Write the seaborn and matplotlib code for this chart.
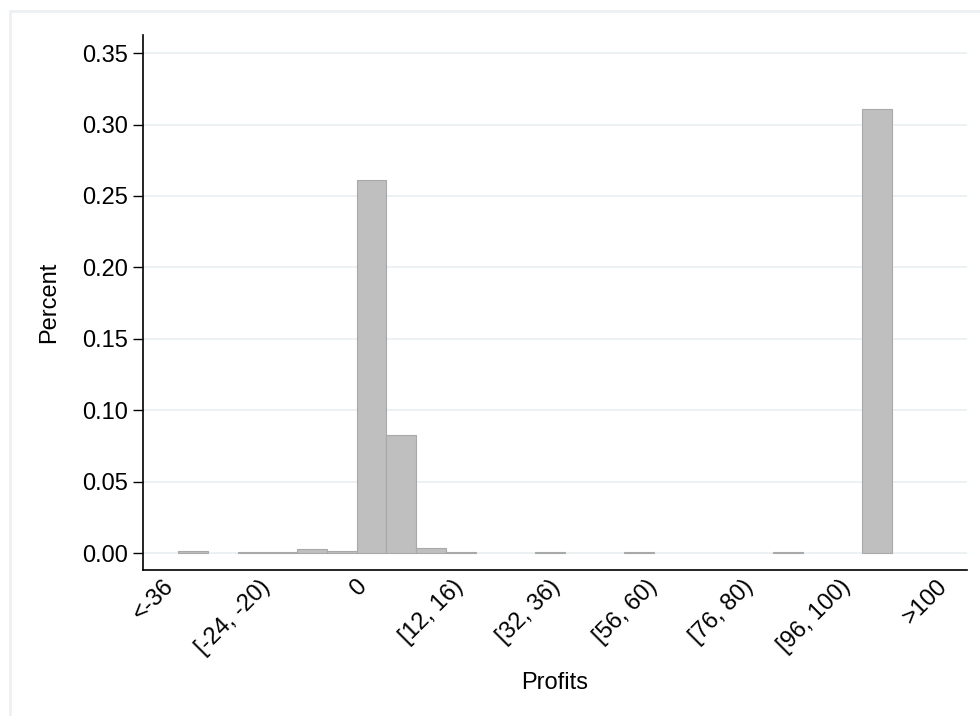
import numpy as np
import pandas as pd
import matplotlib
matplotlib.use("Agg")
import matplotlib.pyplot as plt
import matplotlib.transforms as mtransforms
import seaborn as sns

# histogram bins (bin index -> share), 26 bins over the coded profit range 0..40
bin_idx = [0, 2, 3, 4, 5, 6, 7, 8, 9, 12, 15, 20, 23]
pct = [0.0015, 0.0004, 0.0008, 0.0025, 0.0015, 0.2615, 0.0825, 0.0035,
       0.0005, 0.001, 0.0005, 0.0005, 0.311]
n_bins = 26
code_min, code_max = 0, 40

tick_codes = [0, 5, 10, 15, 20, 25, 30, 35, 40]
tick_labels = ["<-36", "[-24, -20)", "0", "[12, 16)", "[32, 36)",
               "[56, 60)", "[76, 80)", "[96, 100)", ">100"]
y_ticks = [0.00, 0.05, 0.10, 0.15, 0.20, 0.25, 0.30, 0.35]

bw = (code_max - code_min) / n_bins
df = pd.DataFrame({"code": [(i + 0.5) * bw for i in bin_idx], "pct": pct})

sns.set_style("white")
plt.rcParams["font.family"] = ["Liberation Sans", "DejaVu Sans"]
plt.rcParams["text.color"] = "black"
plt.rcParams["axes.labelcolor"] = "black"
plt.rcParams["xtick.color"] = "black"
plt.rcParams["ytick.color"] = "black"

fig = plt.figure(figsize=(9.8, 7.16), dpi=100)
ax = fig.add_axes([143 / 980, 1 - 570 / 716, (967 - 143) / 980, (570 - 35) / 716])

sns.histplot(data=df, x="code", weights="pct", bins=n_bins,
             binrange=(code_min, code_max), color="#bfbfbf", alpha=1,
             edgecolor="#a9a9a9", linewidth=0.8, ax=ax, zorder=3)
for p in ax.patches:
    if p.get_height() == 0:
        p.set_visible(False)

ax.set_xlim(-1.81, 40.8)
ax.set_ylim(-0.0119, 0.3627)

ax.set_yticks(y_ticks)
ax.set_yticklabels([f"{v:.2f}" for v in y_ticks])
ax.yaxis.grid(True, color="#eaf0f3", linewidth=1.3, zorder=0)
ax.xaxis.grid(False)
ax.set_axisbelow(True)

ax.set_xticks(tick_codes)
ax.set_xticklabels(tick_labels, rotation=45, ha="right", va="top")
offset = mtransforms.ScaledTranslation(-8 / 100, 0, fig.dpi_scale_trans)
for lab in ax.get_xticklabels():
    lab.set_transform(lab.get_transform() + offset)

ax.tick_params(axis="y", length=7, width=1, labelsize=17, pad=4, left=True)
ax.tick_params(axis="x", length=0, labelsize=17, pad=4)

for s in ["top", "right"]:
    ax.spines[s].set_visible(False)
for s in ["left", "bottom"]:
    ax.spines[s].set_color("black")
    ax.spines[s].set_linewidth(1.2)

ax.set_xlabel("Profits", fontsize=17)
ax.set_ylabel("Percent", fontsize=17)
ax.xaxis.set_label_coords(0.5, -0.19)
ax.yaxis.set_label_coords(-0.1007, 0.5)

# light outer frame of the graph region
fig.add_artist(plt.Line2D([10 / 980, 10 / 980], [0, 1 - 11 / 716],
                          transform=fig.transFigure, color="#edf1f3", lw=2))
fig.add_artist(plt.Line2D([10 / 980, 1], [1 - 11 / 716, 1 - 11 / 716],
                          transform=fig.transFigure, color="#edf1f3", lw=2))

fig.savefig("out.png", dpi=100)
